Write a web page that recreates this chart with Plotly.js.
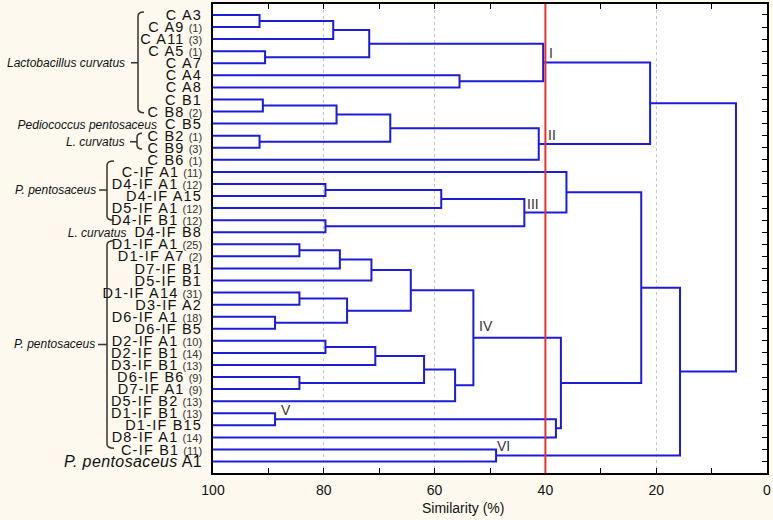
<!DOCTYPE html>
<html><head><meta charset="utf-8">
<script src="https://cdn.plot.ly/plotly-3.0.1.min.js"></script>
<style>html,body{margin:0;padding:0;background:#fdf9ee;}</style>
</head><body><div id="chart" style="width:773px;height:520px;"></div>
<script>
// ---- data ----
const leafNames = ['C A3','C A9','C A11','C A5','C A7','C A4','C A8','C B1','C B8','C B5','C B2','C B9','C B6',
  'C-IF A1','D4-IF A1','D4-IF A15','D5-IF A1','D4-IF B1','D4-IF B8','D1-IF A1','D1-IF A7','D7-IF B1','D5-IF B1',
  'D1-IF A14','D3-IF A2','D6-IF A1','D6-IF B5','D2-IF A1','D2-IF B1','D3-IF B1','D6-IF B6','D7-IF A1','D5-IF B2',
  'D1-IF B1','D1-IF B15','D8-IF A1','C-IF B1','A1'];
const leafCounts = ['','1','3','1','','','','','2','','1','3','1',
  '11','12','','12','12','','25','2','','',
  '31','','18','','10','14','13','9','9','13',
  '13','','14','11',''];
const leafSpecies = ['','','','','','','','','','Pediococcus pentosaceus','','','',
  '','','','','','L. curvatus','','','','',
  '','','','','','','','','','',
  '','','','','P. pentosaceus'];
// linkage: ids < 38 are leaves, id 38+k is merge k
const mergeA = [0,38,3,39,5,41,7,44,10,45,47,43,14,50,17,51,13,19,55,56,23,25,58,57,27,62,30,63,65,61,33,68,67,54,36,71,49];
const mergeB = [1,2,4,40,6,42,8,9,11,46,12,48,15,16,18,52,53,20,21,22,24,26,59,60,28,29,31,64,32,66,34,35,69,70,37,72,73];
const mergeH = [91.6,78.3,90.6,71.8,55.5,40.4,91.0,77.7,91.6,68.0,41.2,21.1,79.7,58.8,79.7,43.8,36.2,84.4,77.1,71.4,
  84.4,88.8,75.8,64.3,79.7,70.7,84.4,61.9,56.3,53.0,88.8,38.1,37.2,22.7,48.9,15.7,5.6];
const groupNames = ['Lactobacillus curvatus','L. curvatus','P. pentosaceus','P. pentosaceus'];
const clusterNames = ['I','II','III','IV','V','VI'];
const cutoff = 40;
const xTickVals = [100,80,60,40,20,0];
const xTickText = ['100','80','60','40','20','0'];

// ---- build dendrogram ----
const nLeaf = leafNames.length;
const pos = [], hgt = [];
for (let i = 0; i < nLeaf; i++) { pos.push(i + 1); hgt.push(100); }
const xs = [], ys = [];
for (let k = 0; k < mergeH.length; k++) {
  const a = mergeA[k], b = mergeB[k], h = mergeH[k];
  xs.push(hgt[a], h, h, hgt[b], null);
  ys.push(pos[a], pos[a], pos[b], pos[b], null);
  pos.push((pos[a] + pos[b]) / 2); hgt.push(h);
}
const NB = '\u00a0';
const tickText = leafNames.map((n, i) => {
  let s = '';
  const nm = '<span style="letter-spacing:1.2px">' + n + '</span>';
  if (leafSpecies[i]) {
    if (i === nLeaf - 1) s = '<span style="font-size:16px;letter-spacing:0.4px"><i>' + leafSpecies[i] + '</i> ' + n + '</span>';
    else s = '<span style="font-size:12px"><i>' + leafSpecies[i] + '</i></span>' + NB + NB + nm;
  } else s = nm;
  if (leafCounts[i]) s += NB + '<span style="font-size:11px;fill:#333">(' + leafCounts[i] + ')</span>';
  return s;
});

const PL = 213, PW = 554;
const px = v => (v - PL) / PW;
function bracket(xv, xh, xp, yt, yb, ym) {
  const r = 0.35, c = px(xv), h = px(xh), p = px(xp);
  return 'M' + h + ',' + yt + ' Q' + c + ',' + yt + ' ' + c + ',' + (yt + r) +
    ' L' + c + ',' + (yb - r) + ' Q' + c + ',' + yb + ' ' + h + ',' + yb +
    ' M' + c + ',' + ym + ' L' + p + ',' + ym;
}
const bracketLine = {color: '#333', width: 1.5};
const shapes = [
  {type: 'line', xref: 'x', yref: 'paper', x0: cutoff, x1: cutoff, y0: 0, y1: 1, line: {color: '#e8302f', width: 2}, layer: 'above'},
  {type: 'path', xref: 'paper', yref: 'y', path: bracket(138, 144, 131, 0.75, 9.1, 4.95), line: bracketLine},
  {type: 'path', xref: 'paper', yref: 'y', path: bracket(137, 142, 130, 10.8, 12.1, 11.5), line: bracketLine},
  {type: 'path', xref: 'paper', yref: 'y', path: bracket(107, 114, 99, 13.1, 18.0, 15.5), line: bracketLine},
  {type: 'path', xref: 'paper', yref: 'y', path: bracket(107, 114, 98, 19.7, 36.9, 28.3), line: bracketLine}
];
const italicFont = {size: 12, color: '#111'};
const annotations = [
  {xref: 'paper', yref: 'y', x: px(127), y: 4.95, text: '<i>' + groupNames[0] + '</i>', showarrow: false, xanchor: 'right', yanchor: 'middle', font: italicFont},
  {xref: 'paper', yref: 'y', x: px(127), y: 11.5, text: '<i>' + groupNames[1] + '</i>', showarrow: false, xanchor: 'right', yanchor: 'middle', font: italicFont},
  {xref: 'paper', yref: 'y', x: px(98), y: 15.5, text: '<i>' + groupNames[2] + '</i>', showarrow: false, xanchor: 'right', yanchor: 'middle', font: italicFont},
  {xref: 'paper', yref: 'y', x: px(97), y: 28.3, text: '<i>' + groupNames[3] + '</i>', showarrow: false, xanchor: 'right', yanchor: 'middle', font: italicFont},
  {xref: 'paper', yref: 'paper', x: px(463), y: -35 / 469, text: 'Similarity (%)', showarrow: false, xanchor: 'center', yanchor: 'middle', font: {size: 14, color: '#111'}}
];
const clusterPos = [[39.0, 4.15], [38.8, 10.94], [42.3, 16.66], [50.7, 26.8], [86.9, 33.7], [47.6, 36.7]];
clusterNames.forEach((t, i) => annotations.push({xref: 'x', yref: 'y', x: clusterPos[i][0], y: clusterPos[i][1], text: t,
  showarrow: false, xanchor: 'center', yanchor: 'middle', font: {size: 14, color: '#333'}}));

const trace = {x: xs, y: ys, type: 'scatter', mode: 'lines', line: {color: '#1c1cd6', width: 2}, hoverinfo: 'skip'};
const layout = {
  width: 773, height: 520,
  paper_bgcolor: '#fdf9ee', plot_bgcolor: '#ffffff',
  margin: {l: 213, r: 6, t: 4, b: 47},
  showlegend: false,
  font: {family: 'Liberation Sans, Arial, sans-serif', color: '#111', size: 14},
  xaxis: {range: [100, 0], tickmode: 'array', tickvals: xTickVals, ticktext: xTickText,
    ticks: 'inside', ticklen: 5, tickcolor: '#000', showline: true, linecolor: '#000', linewidth: 2, mirror: 'ticks',
    showgrid: true, gridcolor: '#c4c4c4', griddash: 'dot', gridwidth: 1, zeroline: false,
    tickfont: {size: 14}, ticklabelstandoff: 3,
    minor: {tickvals: [90, 70, 50, 30, 10], ticks: 'inside', ticklen: 5, tickcolor: '#000', showgrid: false}},
  yaxis: {range: [38.95, 0.09], tickmode: 'array', tickvals: leafNames.map((_, i) => i + 1), ticktext: tickText,
    ticks: 'inside', ticklen: 5, tickcolor: '#000', showline: true, linecolor: '#000', linewidth: 2, mirror: 'ticks',
    layer: 'below traces', showgrid: false, zeroline: false, tickfont: {size: 14.5}, ticklabelstandoff: 6},
  shapes: shapes, annotations: annotations
};
Plotly.newPlot('chart', [trace], layout, {displayModeBar: false, staticPlot: true});
</script></body></html>
